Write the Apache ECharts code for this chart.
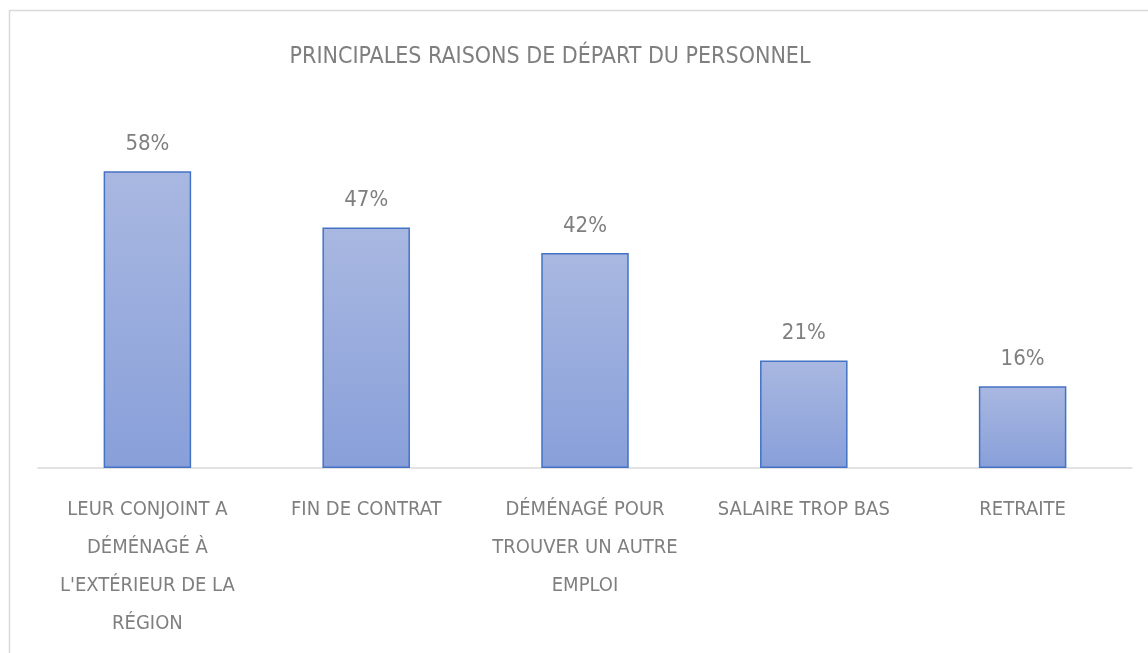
<!DOCTYPE html>
<html>
<head>
<meta charset="utf-8">
<script src="https://cdn.jsdelivr.net/npm/echarts@6/dist/echarts.min.js"></script>
<style>
html, body { margin: 0; padding: 0; background: #fff; }
#chart { width: 1148px; height: 653px; }
</style>
</head>
<body>
<div id="chart"></div>
<script>
// raisons de depart, valeurs en %
const categories = [
    "LEUR CONJOINT A\nDÉMÉNAGÉ À\nL'EXTÉRIEUR DE LA\nRÉGION",
    "FIN DE CONTRAT",
    "DÉMÉNAGÉ POUR\nTROUVER UN AUTRE\nEMPLOI",
    "SALAIRE TROP BAS",
    "RETRAITE"
];
const values = [58, 47, 42, 21, 16];

const font = "'Liberation Sans Narrow', 'DejaVu Sans Condensed', sans-serif";
const grey = '#7f7f7f';

let chart = echarts.init(document.getElementById('chart'));
let option = {
    backgroundColor: '#fff',
    animation: false,
    title: {
        text: 'PRINCIPALES RAISONS DE DÉPART DU PERSONNEL',
        left: 545,
        top: 41,
        textAlign: 'center',
        textStyle: {
            color: grey,
            fontFamily: font,
            fontWeight: 'normal',
            fontSize: 23
        }
    },
    graphic: [{
        type: 'rect',
        shape: { x: 9.5, y: 10.5, width: 1200, height: 700 },
        style: { fill: 'none', stroke: '#d9d9d9', lineWidth: 1.5 },
        silent: true
    }],
    grid: {
        left: 38,
        right: 16,
        top: 161,
        bottom: 185
    },
    xAxis: {
        type: 'category',
        data: categories,
        axisTick: { show: false },
        axisLine: { lineStyle: { color: '#d9d9d9', width: 1.5 } },
        axisLabel: {
            interval: 0,
            color: grey,
            fontFamily: font,
            fontSize: 20,
            lineHeight: 38,
            margin: 23
        }
    },
    yAxis: {
        type: 'value',
        min: 0,
        max: 60,
        show: false,
        splitLine: { show: false }
    },
    series: [{
        type: 'bar',
        data: values,
        barWidth: '40%',
        itemStyle: {
            borderColor: '#4472c4',
            borderWidth: 1.5,
            color: new echarts.graphic.LinearGradient(0, 0, 0, 1, [
                { offset: 0, color: '#a9b8e1' },
                { offset: 1, color: '#889fd9' }
            ])
        },
        label: {
            show: true,
            position: 'top',
            distance: 16,
            formatter: '{c}%',
            color: grey,
            fontFamily: font,
            fontSize: 22
        }
    }]
};
chart.setOption(option);
</script>
</body>
</html>
